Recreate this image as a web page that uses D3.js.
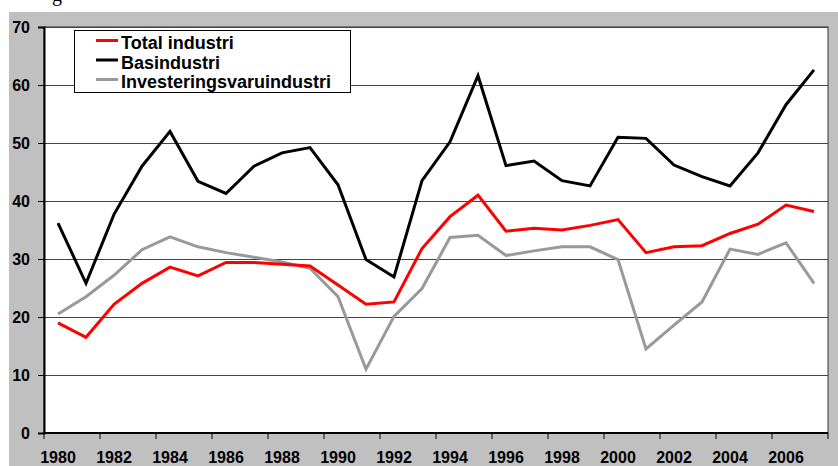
<!DOCTYPE html>
<html>
<head>
<meta charset="utf-8">
<script src="https://cdn.jsdelivr.net/npm/d3@7"></script>
<style>
  body { margin: 0; background: #fff; }
  svg { display: block; }
  text { font-family: "Liberation Sans", Arial, sans-serif; font-weight: bold; }
</style>
</head>
<body>
<svg id="chart" width="838" height="466"></svg>
<script>
var years = d3.range(1980, 2008);
var yearLabels = years.filter(function (d) { return d % 2 === 0 && d <= 2006; });
var yTicks = [0, 10, 20, 30, 40, 50, 60, 70];

var totalIndustri = [19.0, 16.5, 22.2, 25.8, 28.6, 27.1, 29.4, 29.4, 29.1, 28.8,
  25.5, 22.2, 22.6, 31.8, 37.3, 41.0, 34.8, 35.3, 35.0, 35.8,
  36.8, 31.1, 32.1, 32.3, 34.4, 36.0, 39.3, 38.2];
var basindustri = [36.2, 25.8, 37.7, 46.0, 52.0, 43.4, 41.3, 46.0, 48.3, 49.2,
  42.8, 29.9, 26.9, 43.5, 50.2, 61.6, 46.1, 46.9, 43.5, 42.6,
  51.0, 50.8, 46.2, 44.2, 42.6, 48.3, 56.6, 62.6];
var investering = [20.5, 23.5, 27.2, 31.6, 33.8, 32.1, 31.1, 30.3, 29.5, 28.4,
  23.5, 11.0, 20.1, 24.9, 33.7, 34.1, 30.6, 31.4, 32.1, 32.1,
  29.9, 14.5, 18.6, 22.6, 31.7, 30.8, 32.8, 25.8];

var seriesNames = ["Total industri", "Basindustri", "Investeringsvaruindustri"];
var seriesColors = ["#ff0000", "#000000", "#999999"];
var seriesData = [totalIndustri, basindustri, investering];

var svg = d3.select("#chart");

// cut-off title remnant at the top
svg.append("text")
  .attr("x", 52)
  .attr("y", 1)
  .style("font-family", "'Liberation Serif', serif")
  .style("font-weight", "normal")
  .style("font-size", "20px")
  .text("g");

// grey chart area
svg.append("rect")
  .attr("x", 9)
  .attr("y", 12)
  .attr("width", 838 - 9)
  .attr("height", 466 - 12)
  .attr("fill", "#c0c0c0");

var pLeft = 44, pRight = 828, pTop = 27, pBottom = 433;

var x = d3.scaleBand().domain(years).range([pLeft, pRight]).padding(0);
var y = d3.scaleLinear().domain([0, 70]).range([pBottom, pTop]);

// plot area
svg.append("rect")
  .attr("x", pLeft)
  .attr("y", pTop)
  .attr("width", pRight - pLeft)
  .attr("height", pBottom - pTop)
  .attr("fill", "#fff")
  .attr("stroke", "#333")
  .attr("stroke-width", 1);

// gridlines
svg.append("g")
  .selectAll("line")
  .data(yTicks.filter(function (d) { return d > 0; }))
  .enter()
  .append("line")
  .attr("x1", pLeft)
  .attr("x2", pRight)
  .attr("y1", function (d) { return y(d) + 0.5; })
  .attr("y2", function (d) { return y(d) + 0.5; })
  .attr("stroke", "#444")
  .attr("stroke-width", 1);

// y axis
var yAxis = svg.append("g")
  .attr("transform", "translate(" + pLeft + ",0)")
  .call(d3.axisLeft(y).tickValues(yTicks).tickSize(6).tickPadding(8).tickFormat(d3.format("d")));
yAxis.select(".domain").attr("stroke", "#000").attr("stroke-width", 2);
yAxis.selectAll(".tick line").attr("stroke", "#000");
yAxis.selectAll(".tick text")
  .style("font-size", "16px")
  .attr("fill", "#000");

// x axis line
svg.append("line")
  .attr("x1", pLeft - 1)
  .attr("x2", pRight)
  .attr("y1", pBottom)
  .attr("y2", pBottom)
  .attr("stroke", "#000")
  .attr("stroke-width", 2);

// x ticks at category boundaries every two years
var tickYears = yearLabels.concat([null]);
svg.append("g")
  .selectAll("line")
  .data(tickYears)
  .enter()
  .append("line")
  .attr("x1", function (d) { return d === null ? pRight : x(d); })
  .attr("x2", function (d) { return d === null ? pRight : x(d); })
  .attr("y1", pBottom)
  .attr("y2", pBottom + 6)
  .attr("stroke", "#000")
  .attr("stroke-width", 1);

svg.append("g")
  .selectAll("text")
  .data(yearLabels)
  .enter()
  .append("text")
  .attr("x", function (d) { return x(d) + x.bandwidth() / 2; })
  .attr("y", 463)
  .attr("text-anchor", "middle")
  .style("font-size", "16px")
  .text(function (d) { return d; });

// lines
var line = d3.line()
  .x(function (d, i) { return x(years[i]) + x.bandwidth() / 2; })
  .y(function (d) { return y(d); });

[2, 0, 1].forEach(function (k) {
  svg.append("path")
    .datum(seriesData[k])
    .attr("d", line)
    .attr("fill", "none")
    .attr("stroke", seriesColors[k])
    .attr("stroke-width", 3)
    .attr("stroke-linejoin", "miter");
});

// legend
var legend = svg.append("g").attr("transform", "translate(74,30)");
legend.append("rect")
  .attr("x", 0.5)
  .attr("y", 0.5)
  .attr("width", 276)
  .attr("height", 62)
  .attr("fill", "#fff")
  .attr("stroke", "#000")
  .attr("stroke-width", 1);

var items = legend.selectAll(".item")
  .data(seriesNames)
  .enter()
  .append("g")
  .attr("transform", function (d, i) { return "translate(0," + (10.5 + i * 19.5) + ")"; });
items.append("line")
  .attr("x1", 22)
  .attr("x2", 44)
  .attr("stroke", function (d, i) { return seriesColors[i]; })
  .attr("stroke-width", 3);
items.append("text")
  .attr("x", 47)
  .attr("y", 8.5)
  .style("font-size", "18px")
  .text(function (d) { return d; });
</script>
</body>
</html>
